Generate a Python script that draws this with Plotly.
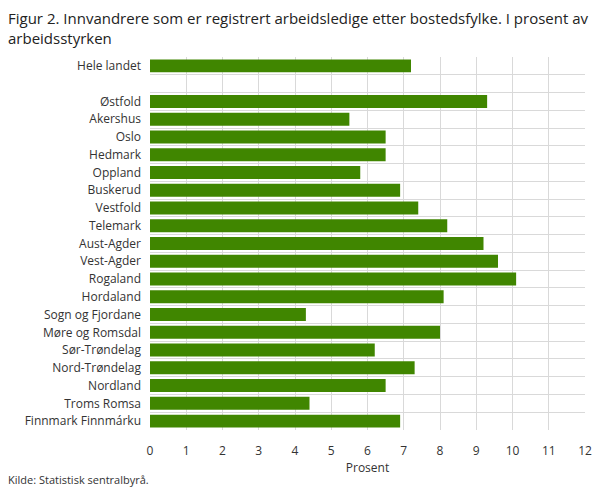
import plotly.graph_objects as go

fylker = ['Hele landet', ' ', 'Østfold', 'Akershus', 'Oslo', 'Hedmark', 'Oppland', 'Buskerud',
          'Vestfold', 'Telemark', 'Aust-Agder', 'Vest-Agder', 'Rogaland', 'Hordaland',
          'Sogn og Fjordane', 'Møre og Romsdal', 'Sør-Trøndelag', 'Nord-Trøndelag',
          'Nordland', 'Troms Romsa', 'Finnmark Finnmárku']
prosent = [7.2, None, 9.3, 5.5, 6.5, 6.5, 5.8, 6.9,
           7.4, 8.2, 9.2, 9.6, 10.1, 8.1,
           4.3, 8.0, 6.2, 7.3,
           6.5, 4.4, 6.9]
x_ticks = list(range(0, 13))

# the page puts the figure 8px in from the top-left corner, so the figure is a bit smaller
fig = go.Figure()
fig.add_trace(go.Bar(x=prosent, y=fylker, orientation='h', marker_color='#408600',
                     marker_line_width=0, hoverinfo='x+y'))

fig.update_layout(
    width=597, height=480,
    margin=dict(l=142, r=20, t=49, b=58, autoexpand=False),
    paper_bgcolor='white', plot_bgcolor='white',
    font=dict(family='Open Sans', size=12, color='#333333'),
    bargap=0.27,
    showlegend=False,
    xaxis=dict(range=[0, 12], tickvals=x_ticks, showgrid=True, gridcolor='#d9d9d9', gridwidth=1,
               zeroline=False, showline=False, ticks='', ticklen=0, ticklabelstandoff=12,
               title=dict(text='Prosent', standoff=2, font=dict(size=12)),
               tickfont=dict(size=12)),
    yaxis=dict(type='category', categoryorder='array', categoryarray=fylker,
               autorange='reversed', tickson='boundaries', showgrid=True,
               gridcolor='#d9d9d9', gridwidth=1, ticks='', ticklen=0, ticklabelstandoff=8,
               tickfont=dict(size=12), showline=False),
)

fig.add_annotation(text='Figur 2. Innvandrere som er registrert arbeidsledige etter bostedsfylke. I prosent av<br>arbeidsstyrken',
                   xref='paper', yref='paper', x=-142 / 435, y=1 + 51.5 / 373,
                   xanchor='left', yanchor='top', align='left', showarrow=False,
                   xshift=-2, font=dict(family='Open Sans', size=15, color='#222222'))
fig.add_annotation(text='Kilde: Statistisk sentralbyrå.', xref='paper', yref='paper',
                   x=-142 / 435, y=-40 / 373, xanchor='left', yanchor='top', showarrow=False,
                   xshift=-2, font=dict(size=11, color='#333333'))

fig.write_html("out.html")
